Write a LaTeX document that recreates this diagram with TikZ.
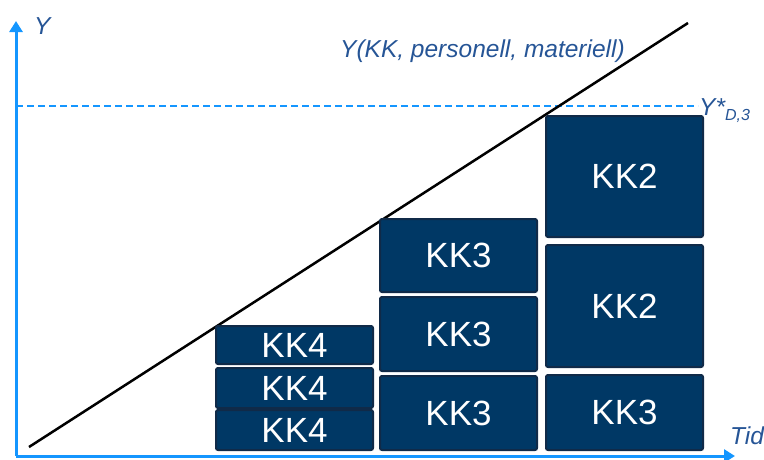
\documentclass[tikz,border=0pt]{standalone}
\usepackage{fontspec}
\setmainfont{Liberation Sans}
\usetikzlibrary{arrows.meta}
\definecolor{axisblue}{RGB}{20,150,255}
\definecolor{boxfill}{RGB}{0,56,101}
\definecolor{boxline}{RGB}{16,42,72}
\definecolor{labelblue}{RGB}{38,85,150}
\tikzset{
  kk/.style={rectangle, rounded corners=2pt, fill=boxfill, draw=boxline, line width=2pt,
    text=white, font=\fontsize{35}{35}\selectfont, inner sep=0pt},
  axis/.style={draw=axisblue, line width=3pt, -{Triangle[width=13pt,length=11pt]}},
  lbl/.style={text=labelblue, font=\fontsize{24.5}{24.5}\selectfont\itshape, inner sep=0pt},
}
\begin{document}
\begin{tikzpicture}[x=1pt,y=-1pt]
\useasboundingbox (0,0) rectangle (764,459);
% axes
\coordinate (O) at (16,456);
\coordinate (ytip) at (16,21);
\coordinate (xtip) at (735,456);
\draw[axis] (O) -- (ytip);
\draw[axis] (O) -- (xtip);
% dashed level
\coordinate (dl) at (16,106);
\coordinate (dr) at (698,106);
\draw[axisblue, line width=2pt, dash pattern=on 7pt off 4pt] (dl) -- (dr);
% diagonal
\coordinate (d1) at (29,447);
\coordinate (d2) at (688,23);
\draw[black, line width=2.5pt] (d1) -- (d2);
% boxes column 1
\node[kk, minimum width=157, minimum height=38] (a1) at (294.5,345) {KK4};
\node[kk, minimum width=157, minimum height=40] (a2) at (294.5,388) {KK4};
\node[kk, minimum width=157, minimum height=40] (a3) at (294.5,430) {KK4};
% column 2
\node[kk, minimum width=157, minimum height=73] (b1) at (458.5,255.5) {KK3};
\node[kk, minimum width=157, minimum height=74] (b2) at (458.5,334) {KK3};
\node[kk, minimum width=157, minimum height=74] (b3) at (458.5,413) {KK3};
% column 3
\node[kk, minimum width=157, minimum height=121] (c1) at (624.5,176.5) {KK2};
\node[kk, minimum width=157, minimum height=122] (c2) at (624.5,306) {KK2};
\node[kk, minimum width=157, minimum height=75] (c3) at (624.5,412.5) {KK3};
% labels
\node[lbl, anchor=base west] (ylab) at (34,34) {Y};
\node[lbl, anchor=base west] (flab) at (340,57) {Y(KK, personell, materiell)};
\node[lbl, anchor=base west] (tlab) at (730,444) {Tid};
\node[lbl, anchor=base west] (ystar) at (699,115) {Y*\raisebox{-5pt}{\fontsize{16}{16}\selectfont D,3}};
\end{tikzpicture}
\end{document}
